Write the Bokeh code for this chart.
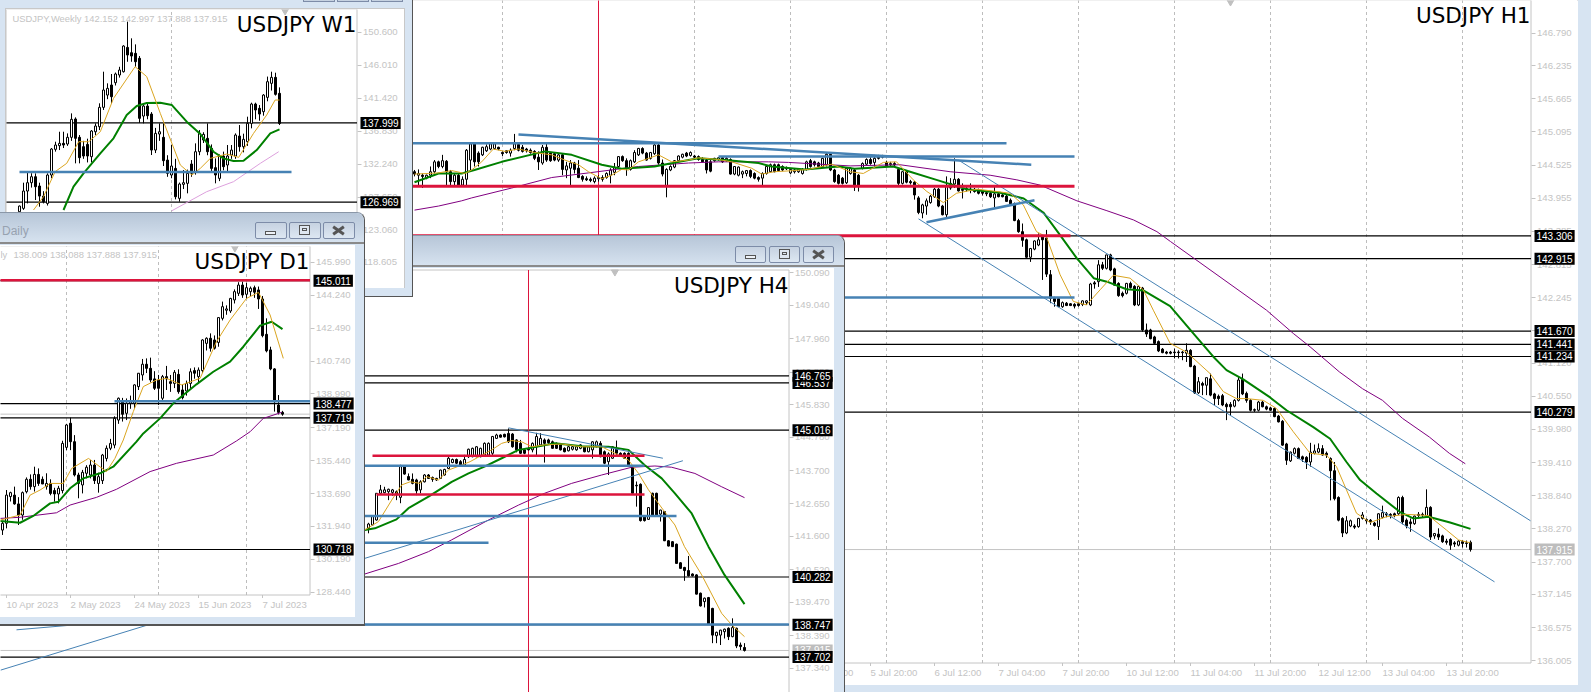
from bokeh.plotting import figure
from bokeh.models import Range1d, Div, Label, FixedTicker, NumeralTickFormatter, Column
from bokeh.core.properties import value
from bokeh.embed import file_html
from bokeh.resources import INLINE

# ---------- H1 data: (open, high, low, close) per bar ----------
H1_OHLC = [
(144.41,144.44,144.33,144.37),(144.35,144.45,144.18,144.38),(144.35,144.38,144.13,144.33),(144.30,144.36,144.28,144.35),
(144.35,144.50,144.30,144.41),(144.41,144.61,144.38,144.58),(144.58,144.60,144.47,144.50),(144.50,144.70,144.47,144.60),
(144.59,144.61,144.18,144.41),(144.41,144.44,144.18,144.24),(144.24,144.38,144.18,144.35),(144.35,144.38,144.16,144.18),
(144.18,144.33,144.16,144.28),(144.28,144.80,144.18,144.78),(144.61,144.90,144.41,144.89),(144.89,144.90,144.50,144.58),
(144.73,144.76,144.50,144.58),(144.70,144.84,144.68,144.83),(144.77,144.88,144.75,144.84),(144.80,144.92,144.78,144.89),
(144.81,144.90,144.79,144.89),(144.83,144.84,144.78,144.80),(144.74,144.76,144.68,144.72),(144.77,144.78,144.72,144.74),
(144.73,144.81,144.67,144.78),(144.81,145.06,144.78,144.89),(144.88,144.90,144.76,144.78),(144.83,144.87,144.74,144.76),
(144.80,144.82,144.74,144.77),(144.78,144.81,144.72,144.74),(144.76,144.78,144.61,144.64),(144.66,144.76,144.44,144.58),
(144.56,144.87,144.53,144.83),(144.83,144.89,144.58,144.61),(144.73,144.75,144.58,144.60),(144.72,144.74,144.59,144.61),
(144.61,144.72,144.58,144.70),(144.70,144.73,144.35,144.45),(144.44,144.58,144.30,144.51),(144.47,144.61,144.18,144.56),
(144.56,144.58,144.38,144.45),(144.47,144.61,144.30,144.31),(144.33,144.35,144.24,144.28),(144.29,144.33,144.25,144.27),
(144.28,144.31,144.23,144.26),(144.24,144.33,144.21,144.30),(144.29,144.35,144.24,144.31),(144.31,144.35,144.24,144.28),
(144.31,144.40,144.29,144.38),(144.35,144.47,144.21,144.44),(144.40,144.56,144.35,144.48),(144.50,144.68,144.48,144.67),
(144.67,144.69,144.58,144.60),(144.60,144.64,144.34,144.47),(144.45,144.62,144.43,144.60),(144.58,144.78,144.56,144.74),
(144.70,144.82,144.68,144.81),(144.81,144.83,144.71,144.73),(144.73,144.75,144.60,144.61),(144.64,144.75,144.62,144.74),
(144.72,144.90,144.70,144.87),(144.87,144.90,144.53,144.56),(144.56,144.62,144.33,144.37),(144.17,144.47,143.97,144.45),
(144.44,144.52,144.42,144.50),(144.49,144.61,144.47,144.60),(144.60,144.69,144.58,144.68),(144.66,144.72,144.64,144.71),
(144.73,144.75,144.66,144.68),(144.69,144.76,144.67,144.74),(144.68,144.70,144.64,144.66),(144.67,144.69,144.60,144.62),
(144.62,144.66,144.57,144.58),(144.61,144.64,144.38,144.44),(144.58,144.61,144.40,144.42),(144.60,144.65,144.58,144.64),
(144.62,144.66,144.60,144.65),(144.65,144.67,144.56,144.58),(144.60,144.66,144.58,144.64),(144.62,144.64,144.36,144.37),
(144.37,144.50,144.35,144.50),(144.35,144.50,144.33,144.49),(144.37,144.43,144.30,144.41),(144.38,144.44,144.33,144.43),
(144.43,144.45,144.30,144.33),(144.38,144.40,144.28,144.30),(144.31,144.33,144.24,144.28),(144.30,144.40,144.18,144.38),
(144.38,144.52,144.36,144.50),(144.41,144.55,144.39,144.53),(144.53,144.55,144.40,144.41),(144.53,144.55,144.42,144.43),
(144.50,144.52,144.42,144.44),(144.48,144.50,144.44,144.46),(144.39,144.47,144.37,144.45),(144.41,144.46,144.38,144.44),
(144.41,144.47,144.39,144.45),(144.38,144.47,144.36,144.45),(144.45,144.60,144.43,144.58),(144.60,144.63,144.48,144.50),
(144.58,144.60,144.50,144.53),(144.56,144.58,144.48,144.50),(144.50,144.65,144.48,144.64),(144.53,144.74,144.50,144.71),
(144.71,144.74,144.42,144.44),(144.44,144.46,144.22,144.24),(144.35,144.37,144.19,144.21),(144.30,144.32,144.19,144.21),
(144.22,144.48,144.20,144.47),(144.38,144.49,144.36,144.47),(144.44,144.46,144.08,144.15),(144.35,144.37,144.07,144.18),
(144.47,144.57,144.45,144.55),(144.54,144.64,144.52,144.62),(144.62,144.66,144.53,144.55),(144.57,144.70,144.50,144.64),
(144.67,144.70,144.62,144.64),(144.68,144.70,144.64,144.66),(144.57,144.60,144.50,144.51),(144.53,144.58,144.50,144.55),
(144.55,144.58,144.50,144.53),(144.45,144.47,144.18,144.21),(144.21,144.42,144.19,144.41),(144.41,144.43,144.21,144.23),
(144.24,144.27,144.19,144.22),(144.23,144.25,143.93,144.01),(143.96,143.99,143.68,143.71),(143.70,143.86,143.61,143.84),
(143.82,143.95,143.67,143.91),(143.88,144.01,143.86,143.99),(143.98,144.13,143.96,144.11),(144.11,144.13,143.80,143.82),
(143.82,143.84,143.66,143.67),(143.67,144.33,143.63,144.17),(144.21,144.30,144.10,144.13),(144.20,144.64,144.13,144.28),
(144.28,144.30,144.07,144.08),(144.11,144.21,143.95,144.09),(144.12,144.15,144.07,144.10),(144.11,144.21,144.04,144.10),
(144.11,144.13,144.05,144.07),(144.10,144.12,144.02,144.04),(144.07,144.09,144.00,144.04),(144.05,144.08,143.99,144.03),
(144.04,144.06,143.96,143.98),(143.96,144.18,143.80,144.03),(144.03,144.05,143.97,143.98),(144.01,144.03,143.97,143.98),
(143.99,144.01,143.89,143.90),(143.92,143.95,143.85,143.86),(143.86,143.88,143.56,143.57),(143.57,143.60,143.36,143.38),
(143.38,143.52,143.12,143.23),(143.24,143.26,142.93,142.94),(142.94,143.10,142.86,143.09),(143.08,143.23,143.06,143.22),
(143.15,143.35,143.13,143.24),(143.29,143.31,142.55,143.24),(143.27,143.41,142.60,142.65),(142.64,142.72,142.15,142.23),
(142.23,142.26,142.09,142.18),(142.23,142.25,142.09,142.09),(142.09,142.18,142.07,142.16),(142.15,142.17,142.10,142.11),
(142.14,142.15,142.10,142.11),(142.13,142.15,142.06,142.10),(142.14,142.16,142.09,142.11),(142.13,142.20,142.10,142.19),
(142.16,142.20,142.12,142.19),(142.12,142.50,142.10,142.48),(142.50,142.53,142.40,142.48),(142.52,142.89,142.43,142.81),
(142.81,142.86,142.72,142.75),(142.75,142.98,142.73,142.98),(142.98,143.00,142.70,142.72),(142.74,142.76,142.46,142.46),
(142.49,142.51,142.26,142.28),(142.32,142.35,142.25,142.28),(142.32,142.50,142.30,142.49),(142.49,142.52,142.40,142.42),
(142.44,142.46,142.10,142.12),(142.12,142.45,142.10,142.44),(142.41,142.43,141.66,141.69),(141.69,141.80,141.57,141.62),
(141.69,141.71,141.53,141.54),(141.57,141.59,141.44,141.46),(141.49,141.51,141.31,141.33),(141.36,141.38,141.29,141.30),
(141.31,141.33,141.27,141.29),(141.31,141.33,141.27,141.29),(141.31,141.37,141.20,141.30),(141.31,141.34,141.20,141.30),
(141.31,141.33,141.17,141.30),(141.29,141.46,141.14,141.34),(141.34,141.36,141.05,141.06),(141.07,141.09,140.59,140.61),
(140.61,140.88,140.59,140.80),(140.77,140.80,140.57,140.74),(140.74,140.87,140.57,140.87),(140.85,140.94,140.55,140.57),
(140.59,140.61,140.40,140.51),(140.55,140.58,140.40,140.51),(140.56,140.59,140.38,140.40),(140.41,140.44,140.14,140.37),
(140.41,140.45,140.21,140.37),(140.38,140.50,140.36,140.48),(140.48,140.88,140.46,140.83),(140.84,140.94,140.57,140.59),
(140.60,140.63,140.44,140.48),(140.48,140.50,140.29,140.31),(140.32,140.34,140.28,140.31),(140.31,140.47,140.29,140.45),
(140.45,140.47,140.36,140.37),(140.37,140.39,140.31,140.33),(140.35,140.37,140.30,140.31),(140.34,140.36,140.19,140.20),
(140.21,140.23,140.10,140.11),(140.12,140.14,139.70,139.71),(139.73,139.75,139.37,139.45),(139.44,139.60,139.42,139.59),
(139.57,139.67,139.55,139.65),(139.65,139.67,139.47,139.48),(139.51,139.53,139.42,139.47),(139.50,139.52,139.30,139.42),
(139.42,139.75,139.34,139.59),(139.57,139.72,139.55,139.61),(139.59,139.74,139.57,139.65),(139.65,139.71,139.53,139.54),
(139.57,139.60,139.49,139.54),(139.48,139.50,138.76,139.27),(139.27,139.42,138.76,138.79),(138.81,138.83,138.40,138.42),
(138.45,138.47,138.13,138.20),(138.20,138.49,138.18,138.41),(138.32,138.43,138.30,138.41),(138.32,138.35,138.27,138.30),
(138.31,138.46,138.29,138.45),(138.45,138.56,138.43,138.51),(138.43,138.45,138.36,138.41),(138.42,138.44,138.34,138.39),
(138.37,138.39,138.31,138.33),(138.31,138.54,138.08,138.53),(138.47,138.67,138.45,138.55),(138.53,138.56,138.47,138.51),
(138.52,138.54,138.45,138.50),(138.53,138.55,138.47,138.50),(138.53,138.83,138.51,138.81),(138.81,138.84,138.35,138.39),
(138.42,138.45,138.28,138.32),(138.39,138.45,138.22,138.36),(138.36,138.50,138.34,138.49),(138.52,138.56,138.45,138.50),
(138.52,138.55,138.46,138.51),(138.49,138.95,138.47,138.64),(138.64,138.66,138.08,138.13),(138.15,138.20,138.10,138.19),
(138.18,138.28,138.08,138.13),(138.15,138.17,138.03,138.05),(138.06,138.10,138.00,138.04),(138.09,138.11,137.91,137.99),
(138.03,138.06,137.96,138.01),(137.99,138.08,137.97,138.06),(138.05,138.08,137.95,138.02),(138.03,138.07,137.95,138.02),
(138.04,138.07,137.88,137.915),
]
H1_GREEN_X = [0,6,11.8,15,21.8,32.6,39.3,46.8,51.8,60,68.5,71,77.6,86,89.3,97.6,106,110,119.7,123.9,130.5,138,146.4,152.3,157.2,161.4,165.6,169.8,173.1,178,182.2,188.9,194.7,199.7,203,207.2,213.9,218,224.7,228.9,233,236.4,240.5,246.4,249.7,253.5,258.9,264]
H1_GREEN_Y = [144.23,144.38,144.38,144.44,144.58,144.76,144.70,144.53,144.46,144.50,144.61,144.64,144.61,144.56,144.50,144.45,144.50,144.46,144.50,144.41,144.27,144.11,144.05,143.95,143.71,143.32,142.92,142.58,142.52,142.39,142.37,142.10,141.63,141.23,141.00,140.84,140.53,140.31,140.02,139.82,139.42,139.11,138.88,138.56,138.45,138.48,138.38,138.27]
H1_ORANGE_X = [0,3.5,6,9.3,12.6,14.3,16.8,19.7,22.6,26,30,34.3,37.6,41,43.5,46.8,49.3,51.8,53.5,56,61,64.3,68.5,71,76,79.3,84.3,86.8,90,95,98.5,104.3,108.9,112.2,117.2,120.5,124.7,128.1,132.2,135.5,140.6,145.6,148.9,152.2,155.5,158,161.4,164.7,168,171.4,174.7,178.9,182.2,184.7,187.2,188.9,193,198.9,202.2,205.5,208,212.2,215.5,219.7,223.9,228,230.5,235.5,238.9,243,248,253.5,258,261,264]
H1_ORANGE_Y = [144.37,144.38,144.39,144.43,144.38,144.44,144.58,144.80,144.76,144.80,144.74,144.70,144.61,144.53,144.41,144.29,144.35,144.45,144.44,144.58,144.70,144.58,144.61,144.65,144.62,144.58,144.47,144.37,144.41,144.43,144.45,144.54,144.41,144.38,144.57,144.58,144.27,144.07,143.88,144.04,144.11,144.07,144.04,143.84,143.38,143.29,142.64,142.18,142.12,142.38,142.63,142.58,142.38,142.03,141.69,141.46,141.31,140.94,140.63,140.51,140.51,140.48,140.34,139.94,139.57,139.54,139.34,138.54,138.38,138.48,138.52,138.50,138.25,138.08,138.03]
H1_PURPLE_X = [0,6,11.8,14.3,24.3,34.3,43.5,56,68.5,76,88.5,93.5,108.9,121.4,133.9,143.9,150.6,156.4,165.6,173.1,179.8,185.6,189,213,219.7,223.9,231.2,237,242,247,253.7,258.7,262.7]
H1_PURPLE_Y = [143.75,143.82,143.91,143.96,144.13,144.31,144.39,144.50,144.56,144.58,144.58,144.57,144.51,144.53,144.41,144.35,144.27,144.18,143.91,143.74,143.58,143.38,143.21,142.03,141.63,141.40,140.97,140.68,140.48,140.17,139.85,139.57,139.39]
H1_LEVELS = [143.306,142.915,141.670,141.441,141.234,140.279]
H1_YTICKS = [146.790,146.235,145.665,145.095,144.525,143.955,143.385,142.815,142.245,141.675,141.120,140.550,139.980,139.410,138.840,138.270,137.700,137.145,136.575,136.005]
H1_XTICKS = {98:"5 Jul 04:00",114:"5 Jul 20:00",130:"6 Jul 12:00",146:"7 Jul 04:00",162:"7 Jul 20:00",178:"10 Jul 12:00",194:"11 Jul 04:00",210:"11 Jul 20:00",226:"12 Jul 12:00",242:"13 Jul 04:00",258:"13 Jul 20:00"}
H1_SEPARATORS = [22,70,94,118,142,166,190,214,238,262]
H1_RED_V = [46]
# horizontal objects: price, from bar, to bar
H1_BLUE_H = [(144.90,-2,148),(144.67,76,165),(142.25,-2,165)]
H1_RED_H = [(144.16,-2,165),(143.31,-2,164)]
# sloped thick and thin lines: bar0, price0, bar1, price1
H1_BLUE_THICK = [(26,145.05,154.2,144.53),(128,143.54,155,143.92)]
H1_BLUE_THIN = [(126,143.60,270,137.36),(136,144.61,279,138.41)]

# ---------- H4 data ----------
H4_OHLC = [
(141.85,142.03,141.69,141.99),(141.96,142.25,141.94,142.23),(142.12,142.98,142.10,142.98),(142.98,143.25,142.95,143.09),
(143.00,143.19,142.98,143.09),(143.03,143.13,142.76,143.11),(143.01,143.12,142.90,143.09),(143.03,143.07,142.76,142.93),
(142.85,143.90,142.66,143.84),(143.84,143.88,143.58,143.60),(143.52,143.62,143.40,143.41),(143.43,143.62,143.27,143.30),
(143.41,143.45,142.92,143.06),(143.09,143.40,142.98,143.35),(143.35,143.60,143.33,143.57),(143.57,143.60,143.45,143.46),
(143.49,143.52,143.35,143.43),(143.46,143.48,143.38,143.41),(143.46,143.74,143.44,143.73),(143.57,143.77,143.55,143.75),
(143.78,144.17,143.76,144.11),(143.97,144.10,143.95,144.07),(144.07,144.10,143.92,143.95),(144.00,144.05,143.84,143.86),
(143.89,144.22,143.85,144.07),(144.16,144.42,144.12,144.40),(144.16,144.45,144.14,144.43),(144.16,144.50,144.14,144.48),
(144.16,144.45,144.14,144.43),(144.21,144.62,144.19,144.59),(144.21,144.62,144.15,144.59),(144.27,144.83,144.20,144.81),
(144.75,144.90,144.73,144.86),(144.86,144.88,144.78,144.79),(144.88,144.90,144.78,144.80),(144.91,145.07,144.60,144.64),
(144.89,144.92,144.45,144.48),(144.70,144.72,144.30,144.38),(144.59,144.70,144.25,144.27),(144.38,144.40,144.24,144.27),
(144.43,144.46,144.36,144.38),(144.38,144.62,144.30,144.59),(144.48,144.93,144.20,144.81),(144.54,144.92,144.52,144.75),
(144.70,144.75,143.97,144.59),(144.70,144.74,144.58,144.61),(144.64,144.68,144.42,144.43),(144.59,144.62,144.41,144.43),
(144.54,144.57,144.36,144.38),(144.43,144.46,144.30,144.32),(144.35,144.51,144.33,144.48),(144.40,144.53,144.36,144.48),
(144.38,144.50,144.35,144.48),(144.43,144.56,144.40,144.54),(144.48,144.50,144.30,144.32),(144.32,144.50,144.30,144.48),
(144.38,144.66,144.10,144.64),(144.48,144.68,144.46,144.64),(144.59,144.66,144.14,144.16),(144.32,144.36,143.92,143.95),
(144.00,144.30,143.57,144.25),(144.11,144.50,144.09,144.48),(144.43,144.68,144.20,144.27),(144.27,144.30,144.19,144.21),
(144.27,144.30,144.09,144.11),(144.27,144.30,143.88,143.89),(143.84,143.86,142.97,142.98),(143.24,143.36,142.55,143.22),
(143.27,143.30,142.07,142.10),(142.23,142.25,142.07,142.10),(142.14,142.53,142.12,142.52),(142.98,143.00,142.27,142.28),
(142.98,143.00,142.27,142.28),(142.31,142.45,142.07,142.44),(142.39,142.41,141.44,141.45),(141.45,141.47,141.27,141.28),
(141.42,141.44,141.25,141.26),(141.34,141.36,140.72,140.72),(140.74,140.76,140.55,140.56),(140.59,140.61,140.16,140.49),
(140.49,140.96,140.30,140.32),(140.38,140.40,140.30,140.32),(140.35,140.37,139.72,139.73),(139.76,139.78,139.33,139.35),
(139.49,139.62,139.30,139.60),(139.62,139.64,138.75,138.76),(139.27,139.29,138.15,138.41),(138.39,138.52,138.15,138.50),
(138.41,138.58,138.09,138.57),(138.52,138.62,138.30,138.60),(138.63,138.66,138.25,138.36),(138.36,138.95,138.34,138.65),
(138.63,138.65,137.99,138.06),(138.09,138.17,137.93,138.04),(138.01,138.15,137.88,137.915),
]
H4_GREEN_X = [-0.9,1.6,7,10,15,20.8,25,29,33.3,37.5,40,46.6,53.3,60,65,69,73.3,76.6,80.8,85,89,94]
H4_GREEN_Y = [141.80,141.85,142.14,142.50,142.87,143.35,143.62,143.84,144.11,144.38,144.43,144.59,144.50,144.48,144.38,143.89,143.46,142.98,142.33,141.26,140.35,139.41]
H4_ORANGE_X = [-0.9,2.5,5.8,8.3,10.4,12.9,14.5,17.5,20,23.3,25.4,30.8,33.3,35.8,38.3,40.8,44,48.3,53.3,58.3,61.6,65,67.5,70,74,76.6,79,83.3,88.3,90.8,94]
H4_ORANGE_Y = [141.80,142.07,142.76,143.25,143.35,143.30,143.52,143.41,143.73,143.89,144.00,144.38,144.59,144.68,144.64,144.48,144.54,144.57,144.48,144.48,144.27,144.05,143.62,143.09,142.39,141.96,141.26,140.35,139.11,138.74,138.36]
H4_PURPLE_X = [-0.9,7.5,15,20.8,30,37.5,44,50.8,58.3,65.8,71.6,75.8,81.6,88.3,94]
H4_PURPLE_Y = [140.38,140.72,141.10,141.48,142.12,142.60,142.98,143.30,143.57,143.82,143.86,143.82,143.62,143.19,142.84]
H4_LEVELS = [146.537,146.765,145.016,140.282,138.747,137.702]
H4_YTICKS = [150.090,149.040,147.960,146.880,145.830,144.780,143.700,142.650,141.600,140.520,139.470,138.390,137.340]
H4_RED_V = [40]
H4_BLUE_H = [(143.87,-5,69),(142.25,-5,77),(141.39,-5,30),(138.75,-93,105.1)]
H4_RED_H = [(144.19,1,69),(142.94,2,69)]
H4_BLUE_THIN = [(-92,137.28,78.6,144.03),(35,145.09,73.6,144.11),(-88,138.58,-68,138.80)]

# ---------- D1 data ----------
D1_OHLC = [
(131.75,132.20,131.49,132.11),(132.11,133.88,131.84,133.61),(133.53,133.79,133.27,133.74),(133.61,134.06,133.10,133.14),
(133.14,133.50,132.02,132.55),(132.55,133.80,132.30,133.74),(133.79,134.55,133.70,134.45),(134.45,134.71,133.90,134.06),
(134.06,135.12,133.80,134.71),(134.71,135.03,134.10,134.23),(134.45,134.60,134.20,134.20),(134.06,134.77,133.90,134.23),
(134.23,134.45,133.60,133.70),(133.85,134.00,133.26,133.67),(133.67,134.10,133.17,133.97),(133.85,136.50,133.70,136.36),
(136.15,137.40,136.00,137.34),(137.43,137.73,136.00,136.45),(136.45,136.80,134.60,134.68),(134.68,134.80,133.44,134.23),
(134.15,134.95,133.70,134.82),(134.77,135.20,134.50,135.09),(134.68,135.48,134.50,135.21),(135.21,135.48,134.20,134.38),
(134.23,134.80,133.74,134.59),(134.38,135.80,134.20,135.74),(135.56,136.25,135.40,136.10),(136.10,136.60,136.00,136.36),
(136.27,137.80,136.10,137.69),(137.60,138.80,137.40,138.76),(138.58,138.78,137.52,137.91),(137.96,138.75,137.60,138.49),
(138.49,138.90,138.20,138.58),(138.49,139.50,138.20,139.47),(139.38,140.10,139.20,140.09),(140.00,140.85,139.70,140.57),
(140.57,140.88,140.10,140.35),(140.35,140.92,139.60,139.73),(139.79,140.20,139.20,139.29),(139.73,140.00,138.40,139.29),
(138.76,140.00,138.58,139.91),(139.91,140.48,139.20,139.79),(139.64,140.00,139.10,139.55),(139.55,140.26,139.30,140.14),
(140.03,140.30,139.00,139.11),(139.20,139.50,138.70,138.79),(139.15,139.70,138.90,139.55),(139.55,140.35,139.30,140.17),
(140.23,140.40,139.80,140.09),(139.91,140.40,139.60,140.26),(140.23,141.90,140.10,141.86),(141.68,142.00,141.30,141.95),
(141.95,142.21,141.24,141.42),(141.86,142.10,141.35,141.42),(141.73,143.05,141.50,143.05),(143.01,143.90,142.90,143.63),
(143.44,143.70,143.20,143.51),(143.40,144.10,143.30,144.07),(143.99,144.55,143.80,144.43),(144.34,144.93,144.20,144.78),
(144.78,144.96,144.10,144.25),(144.29,144.90,144.05,144.64),(144.43,144.70,144.20,144.61),(144.64,144.75,144.10,144.40),
(144.52,144.70,143.51,144.04),(144.04,144.20,142.00,142.09),(142.16,143.01,141.20,141.28),(141.33,141.50,140.25,140.32),
(140.32,140.36,138.05,138.58),(138.40,138.93,137.90,138.01),(138.01,138.09,137.83,137.915),
]
D1_GREEN_X = [-0.6,4.4,7.7,11.9,14,16.9,20.2,24.4,27.7,33.5,35.2,39.4,42.7,48.5,52.7,56.9,60.2,64.4,67.3,70]
D1_GREEN_Y = [132.23,132.14,132.50,133.17,133.26,133.97,134.50,134.77,135.12,136.45,136.89,137.69,138.49,139.50,140.17,140.71,141.50,142.62,142.83,142.44]
D1_ORANGE_X = [-0.6,4.4,6.9,9.4,11.9,15.2,17.3,21.5,26,28.1,30.2,32.7,35.2,38.5,41,44.8,49.4,53.5,56.9,61,64,66.9,70.2]
D1_ORANGE_Y = [132.28,132.55,133.61,133.88,134.23,134.23,135.03,135.56,134.86,135.56,136.54,138.05,139.38,139.73,139.82,139.47,139.82,141.77,142.92,144.07,144.39,143.19,140.88]
D1_PURPLE_X = [-0.6,4.4,13.5,16.9,23.5,28.5,36.9,43.5,52.7,58.5,61.9,65.2,69.8]
D1_PURPLE_Y = [132.37,132.43,132.67,133.08,133.49,133.92,134.86,135.30,135.74,136.49,136.98,137.69,138.01]
D1_LEVELS = [145.011,138.477,137.719,130.718]
D1_YTICKS = [145.990,144.240,142.490,140.740,138.990,137.190,135.440,133.690,131.940,130.190,128.440]
D1_XTICKS = {1:"10 Apr 2023",17:"2 May 2023",33:"24 May 2023",49:"15 Jun 2023",65:"7 Jul 2023"}
D1_SEPARATORS = [16,39,61]
D1_BLUE_H = [(138.60,28,76.875)]
D1_RED_H = [(145.03,-1,76.875)]

# ---------- W1 data ----------
W1_OHLC = [
(125.64,126.50,125.00,126.43),(126.11,129.68,125.90,128.52),(128.52,131.07,126.80,129.68),(129.68,131.00,129.00,130.51),
(130.51,130.98,127.27,129.12),(129.22,129.68,126.34,127.82),(127.82,128.50,126.80,127.04),(126.80,130.98,126.50,130.75),
(130.75,134.50,130.30,134.36),(134.32,135.38,134.00,134.92),(134.83,136.77,134.22,135.15),(135.15,136.77,134.50,134.92),
(135.06,136.54,134.80,135.99),(135.99,139.32,135.50,138.49),(138.54,138.77,132.37,135.85),(135.99,136.31,132.37,133.16),
(134.69,135.50,133.00,133.39),(135.01,135.80,132.50,133.39),(133.30,137.00,132.50,136.87),(136.77,137.93,136.30,137.56),
(137.47,140.72,137.00,140.16),(140.16,145.12,139.80,142.57),(141.87,143.50,141.30,142.80),(143.27,144.80,140.70,141.64),
(143.59,145.00,143.20,144.80),(144.66,145.80,144.30,145.35),(145.12,148.80,145.00,148.69),(148.50,152.08,146.50,147.44),
(147.76,149.76,146.50,147.30),(147.67,148.92,145.80,146.51),(146.98,147.30,138.00,138.63),(138.95,140.60,137.93,140.34),
(140.34,140.80,138.50,139.00),(139.23,139.50,133.53,134.22),(134.22,137.30,133.80,136.54),(136.45,137.93,135.50,136.77),
(135.99,137.93,132.00,132.74),(132.83,133.50,130.50,130.98),(130.75,134.92,130.30,132.00),(131.67,133.00,127.36,127.73),
(127.50,129.70,127.04,129.49),(129.45,131.44,128.80,129.68),(129.59,131.50,128.20,130.98),(132.28,132.83,130.50,130.98),
(131.21,135.15,130.80,133.99),(133.99,137.00,133.50,136.54),(135.62,136.70,135.20,136.40),(135.85,137.93,133.50,133.99),
(134.46,135.00,131.30,131.67),(131.77,133.06,129.59,130.75),(130.28,133.60,129.90,133.39),(133.39,134.00,131.40,131.91),
(132.14,134.92,131.30,133.39),(133.53,134.92,133.00,134.22),(133.39,136.54,133.00,136.31),(136.17,137.70,134.00,134.69),
(134.69,136.50,133.90,135.71),(135.38,138.86,134.80,137.93),(137.93,140.81,137.24,140.62),(140.62,140.81,138.50,139.79),
(140.02,140.48,138.30,139.23),(139.56,142.00,139.00,141.87),(141.55,144.44,141.00,143.73),(143.50,145.12,142.50,144.33),
(144.33,144.98,141.80,141.97),(142.11,142.94,137.70,137.915),
]
W1_GREEN_X = [11,13.5,16,20.2,23.5,26.8,29.3,31.8,35.2,38.1,41.8,45.2,48.5,51,53.5,56,59.3,62.7,65]
W1_GREEN_Y = [125.88,129.12,130.98,133.76,135.85,139.09,140.34,140.76,140.81,140.48,138.17,136.45,133.99,133.06,132.69,132.74,134.22,136.54,137.10]
W1_ORANGE_X = [3.5,6,8.9,11.8,14.8,17.3,20.2,23.5,28.9,31.8,35.2,38.1,40.2,43.1,45.2,47.7,51.8,54.8,58.5,61.8,63.9,65]
W1_ORANGE_Y = [125.88,127.73,131.21,132.37,135.38,135.38,136.77,141.41,145.82,144.44,139.32,135.15,132.14,130.75,131.67,133.06,133.67,133.20,136.54,139.09,141.18,141.18]
W1_PINK_X = [38.1,46.8,53.5,60.2,64.8]
W1_PINK_Y = [125.78,128.43,129.82,132.37,133.99]
W1_LEVELS = [137.999,126.969]
W1_YTICKS = [150.600,146.010,141.420,136.830,132.240,127.650,123.060,118.605]
W1_SEPARATORS = [38]
W1_BLUE_H = [(131.16,0,68)]

LAST_PRICE = 137.915
GREEN, ORANGE, PURPLE, PINK = "#008000", "#DAA520", "#800080", "#DDA0DD"
BLUE, RED, GREY, DASH = "#4682B4", "#DC143C", "#c4c4c4", "#bdbdbd"
FONT = "Liberation Sans"
MA_WIDTH = 2


class Pane:
    """One chart: a frame with the price scale drawn inside its right part."""

    def __init__(self, fw, fh, axis_w, extra_h, xr, yr, yticks, extra_top=0):
        self.fw, self.fh = fw, fh
        self.x0, self.x1 = xr
        self.y0, self.y1 = yr
        self.per_px_y = (yr[1] - yr[0]) / fh
        self.per_px_x = (xr[1] - xr[0]) / fw
        # half a pixel of shift so that one-pixel lines land on whole pixels
        sx = 0.5 * self.per_px_x
        sy = 0.5 * self.per_px_y
        p = figure(frame_width=fw + axis_w, frame_height=fh + extra_h + extra_top,
                   x_range=Range1d(xr[0] + sx, xr[1] + axis_w * self.per_px_x + sx),
                   y_range=Range1d(yr[0] - extra_h * self.per_px_y - sy, yr[1] + extra_top * self.per_px_y - sy),
                   y_axis_location="right", x_axis_location=None,
                   output_backend="svg", toolbar_location=None, min_border=0,
                   background_fill_color="white", border_fill_color=None)
        if extra_top:
            p.background_fill_alpha = 0
        p.grid.visible = False
        p.outline_line_color = None
        ax = p.yaxis[0]
        ax.fixed_location = xr[1]
        ax.ticker = FixedTicker(ticks=yticks)
        ax.formatter = NumeralTickFormatter(format="0.000")
        ax.major_tick_out = 4
        ax.major_tick_in = 0
        ax.minor_tick_out = 0
        ax.minor_tick_in = 0
        ax.major_tick_line_color = GREY
        ax.axis_line_color = None
        ax.major_label_text_color = GREY
        ax.major_label_text_font = FONT
        ax.major_label_text_font_size = "9.6px"
        ax.major_label_standoff = 2
        self.p = p
        self.frame_h = fh + extra_h

    def borders(self, top=True, bottom=False, left=False):
        p = self.p
        p.segment([self.x1], [self.y0 if bottom else self.y0 - 99], [self.x1], [self.y1], line_color=GREY, line_width=1)
        if top:
            p.segment([self.x0], [self.y1], [self.x1], [self.y1], line_color=GREY, line_width=1)
        if bottom:
            p.segment([self.x0], [self.y0], [self.x1], [self.y0], line_color=GREY, line_width=1)
        if left:
            p.segment([self.x0], [self.y0], [self.x0], [self.y1], line_color=GREY, line_width=2)

    def xlabels(self, ticks):
        p = self.p
        xs = list(ticks)
        p.segment(xs, [self.y0] * len(xs), xs, [self.y0 - 3 * self.per_px_y] * len(xs),
                  line_color=GREY, line_width=1)
        p.text(xs, [self.y0 - 9 * self.per_px_y] * len(xs), text=list(ticks.values()),
               text_color=GREY, text_font=value(FONT), text_font_size="9.6px",
               text_align="left", text_baseline="middle")

    def separators(self, xs):
        self.p.segment(xs, [self.y0] * len(xs), xs, [self.y1] * len(xs),
                       line_color=DASH, line_dash="3 3", line_width=1)

    def levels(self, ys, color="black", width=1.2):
        self.p.segment([self.x0] * len(ys), ys, [self.x1] * len(ys), ys, line_color=color, line_width=width)

    def candles(self, rows):
        p = self.p
        xs = list(range(len(rows)))
        o, h, l, c = zip(*rows)
        p.segment(xs, h, xs, l, line_color="black", line_width=1)
        up = [i for i in xs if c[i] >= o[i]]
        dn = [i for i in xs if c[i] < o[i]]
        p.vbar(up, width=0.5, bottom=[o[i] for i in up], top=[c[i] for i in up],
               fill_color="white", line_color="black", line_width=1)
        p.vbar(dn, width=0.5, bottom=[c[i] for i in dn], top=[o[i] for i in dn],
               fill_color="black", line_color="black", line_width=1)

    def hsegs(self, rows, color, width):
        self.p.segment([r[1] for r in rows], [r[0] for r in rows], [r[2] for r in rows], [r[0] for r in rows],
                       line_color=color, line_width=width)

    def slopes(self, rows, color, width):
        self.p.segment([r[0] for r in rows], [r[1] for r in rows], [r[2] for r in rows], [r[3] for r in rows],
                       line_color=color, line_width=width)

    def marker(self, x):
        self.p.scatter([x], [self.y1 - 2 * self.per_px_y], marker="inverted_triangle", size=7, color="#c0c0c0")

    def tag(self, price, text, bg="black", fg="white"):
        self.p.add_layout(Label(x=self.fw + 3, y=price, x_units="screen", y_units="data", text=text,
                                text_color=fg, text_font=FONT, text_font_size="10px",
                                text_baseline="middle", text_align="left",
                                background_fill_color=bg, padding=2))

    def label(self, x, dy, text, color, font, size, align):
        self.p.add_layout(Label(x=x, y=self.frame_h - dy, x_units="screen", y_units="screen", text=text,
                                text_color=color, text_font=font, text_font_size=size,
                                text_align=align, text_baseline="middle"))

    def title(self, text):
        self.label(self.fw - 1, 15, text, "black", "DejaVu Sans", "21.5px", "right")


def host(model, left, top):
    model.margin = 0
    model.styles = {"position": "absolute", "left": f"{left}px", "top": f"{top}px"}
    return model


def box(left, top, w, h, css=""):
    return f'<div style="position:absolute;left:{left}px;top:{top}px;width:{w}px;height:{h}px;box-sizing:border-box;{css}"></div>'


def buttons(xs, top, w, h):
    frame = "background:linear-gradient(#c6d2e1,#dde7f2);border:1px solid #7d8ca8;border-radius:2px;"
    out = ""
    for x in xs:
        out += box(x, top, w, h, frame)
    out += box(xs[0] + 10, top + 9, 11, 4, "background:#eef2f7;border:1px solid #555;")
    out += box(xs[1] + 10, top + 3, 11, 10, "border:1px solid #555;background:#dfe7f0;")
    out += box(xs[1] + 13, top + 6, 5, 3, "border:1px solid #555;")
    out += box(xs[2] + 9, top + 7, 13, 3, "background:#555;transform:rotate(35deg);")
    out += box(xs[2] + 9, top + 7, 13, 3, "background:#555;transform:rotate(-35deg);")
    return out


MARGIN = "#d7e4f2"
TITLE = "background:linear-gradient(#b7c6d8,#d6e2ef);"

# ---------- H1 ----------
h1 = Pane(1531, 663, 47, 22, (-103.625, 279.125), (135.965, 147.362), H1_YTICKS)
h1.borders(top=True, bottom=True)
h1.xlabels(H1_XTICKS)
h1.separators(H1_SEPARATORS)
h1.levels([LAST_PRICE], GREY, 1)
h1.levels(H1_LEVELS)
h1.p.segment(H1_RED_V, [136] * len(H1_RED_V), H1_RED_V, [147.362] * len(H1_RED_V), line_color=RED, line_width=1)
h1.candles(H1_OHLC)
h1.p.line(H1_PURPLE_X, H1_PURPLE_Y, line_color=PURPLE, line_width=1)
h1.p.line(H1_GREEN_X, H1_GREEN_Y, line_color=GREEN, line_width=MA_WIDTH)
h1.p.line(H1_ORANGE_X, H1_ORANGE_Y, line_color=ORANGE, line_width=1)
h1.slopes(H1_BLUE_THIN, BLUE, 1)
h1.slopes(H1_BLUE_THICK, BLUE, 2.5)
h1.hsegs(H1_BLUE_H, BLUE, 2.5)
h1.hsegs(H1_RED_H, RED, 3)
h1.marker(204)
h1.tag(LAST_PRICE, "137.915", bg="#bdbdbd")
for v in H1_LEVELS:
    h1.tag(v, f"{v:.3f}")
h1.title("USDJPY H1")

# ---------- H4 ----------
h4 = Pane(789, 422, 45, 0, (-92.125, 105.125), (136.576, 150.177), H4_YTICKS, extra_top=5)
h4.borders(top=True)
h4.levels([LAST_PRICE], GREY, 1)
h4.levels(H4_LEVELS)
h4.p.segment(H4_RED_V, [136.0] * len(H4_RED_V), H4_RED_V, [150.177] * len(H4_RED_V), line_color=RED, line_width=1)
h4.candles(H4_OHLC)
h4.p.line(H4_PURPLE_X, H4_PURPLE_Y, line_color=PURPLE, line_width=1)
h4.p.line(H4_GREEN_X, H4_GREEN_Y, line_color=GREEN, line_width=MA_WIDTH)
h4.p.line(H4_ORANGE_X, H4_ORANGE_Y, line_color=ORANGE, line_width=1)
h4.slopes(H4_BLUE_THIN, BLUE, 1)
h4.hsegs(H4_BLUE_H, BLUE, 2.5)
h4.hsegs(H4_RED_H, RED, 2.5)
h4.marker(61.6)
h4.tag(LAST_PRICE, "137.915", bg="#bdbdbd")
for v in H4_LEVELS:
    h4.tag(v, f"{v:.3f}")
h4.title("USDJPY H4")

# ---------- W1 ----------
w1 = Pane(351, 276, 47, 3, (-3.375, 84.375), (115.45, 153.84), W1_YTICKS)
w1.borders(top=True, left=True)
w1.separators(W1_SEPARATORS)
w1.levels(W1_LEVELS)
w1.candles(W1_OHLC)
w1.p.line(W1_PINK_X, W1_PINK_Y, line_color=PINK, line_width=1)
w1.p.line(W1_GREEN_X, W1_GREEN_Y, line_color=GREEN, line_width=MA_WIDTH)
w1.p.line(W1_ORANGE_X, W1_ORANGE_Y, line_color=ORANGE, line_width=1)
w1.hsegs(W1_BLUE_H, BLUE, 2.5)
w1.marker(66.4)
for v in W1_LEVELS:
    w1.tag(v, f"{v:.3f}")
w1.title("USDJPY W1")
w1.label(6, 9, "USDJPY,Weekly  142.152 142.997 137.888 137.915", GREY, FONT, "9.4px", "left")

# ---------- D1 ----------
d1 = Pane(310, 349, 45, 22, (-0.625, 76.875), (128.297, 146.857), D1_YTICKS)
d1.borders(top=True, bottom=True)
d1.xlabels(D1_XTICKS)
d1.separators(D1_SEPARATORS)
d1.levels([LAST_PRICE], GREY, 1)
d1.levels(D1_LEVELS)
d1.candles(D1_OHLC)
d1.p.line(D1_PURPLE_X, D1_PURPLE_Y, line_color=PURPLE, line_width=1)
d1.p.line(D1_GREEN_X, D1_GREEN_Y, line_color=GREEN, line_width=MA_WIDTH)
d1.p.line(D1_ORANGE_X, D1_ORANGE_Y, line_color=ORANGE, line_width=1)
d1.hsegs(D1_BLUE_H, BLUE, 2.5)
d1.hsegs(D1_RED_H, RED, 2.5)
d1.marker(58.1)
for v in D1_LEVELS:
    d1.tag(v, f"{v:.3f}")
d1.title("USDJPY D1")
d1.label(0, 8, "ly", GREY, FONT, "9.4px", "left")
d1.label(13, 8, "138.009 138.088 137.888 137.915", GREY, FONT, "9.4px", "left")

# ---------- window chrome ----------
bg_h1 = host(Div(width=1591, height=692, text=box(0, 0, 1591, 692, f"background:{MARGIN};")
                 + box(0, 0, 1578, 685, "background:white;border-right:1px solid #c8c8c8;border-bottom:1px solid #c8c8c8;")), 0, 0)

bg_h4 = host(Div(width=845, height=457, text=box(0, 0, 845, 457, f"background:{MARGIN};border-right:1px solid #555;border-top:1px solid #8a97a8;border-top-right-radius:8px;")
                 + box(0, 1, 844, 31, TITLE + "border-top-right-radius:8px;border-bottom:2px solid #8a8a8a;")
                 + box(0, 33, 834, 424, "background:white;")
                 + buttons([735, 769, 803], 11, 31, 17)), 0, 235)

bg_w1 = host(Div(width=413, height=297, text=box(0, 0, 413, 297, f"background:{MARGIN};border-right:1px solid #555;border-bottom:1px solid #555;")
                 + box(5, 8, 400, 280, "background:white;border:1px solid #c8c8c8;")
                 + box(303, 0, 32, 2, "background:#c6d2e1;border:1px solid #7d8ca8;border-top:none;")
                 + box(337, 0, 32, 2, "background:#c6d2e1;border:1px solid #7d8ca8;border-top:none;")
                 + box(371, 0, 32, 2, "background:#c6d2e1;border:1px solid #7d8ca8;border-top:none;")), 0, 0)

bg_d1 = host(Div(width=365, height=414, text=box(0, 0, 365, 414, f"background:{MARGIN};border-right:1px solid #555;border-bottom:2px solid #555;border-top:1px solid #8a97a8;border-top-right-radius:8px;")
                 + box(0, 1, 364, 31, TITLE + "border-top-right-radius:8px;border-bottom:2px solid #8a8a8a;")
                 + box(0, 33, 355, 372, "background:white;")
                 + '<div style="position:absolute;left:2px;top:12px;font:12px \'Liberation Sans\';color:#97a2b0;">Daily</div>'
                 + buttons([255, 289, 323], 10, 32, 17)), 0, 212)

page = Column(children=[bg_h1, host(h1.p, 0, 0), bg_h4, host(h4.p, 0, 265), bg_w1, host(w1.p, 6, 9), bg_d1, host(d1.p, 0, 246)],
              width=1591, height=692, sizing_mode="fixed")
page.margin = 0
page.styles = {"position": "absolute", "left": "0px", "top": "0px", "overflow": "hidden"}

open("out.html", "w").write(file_html(page, INLINE))
